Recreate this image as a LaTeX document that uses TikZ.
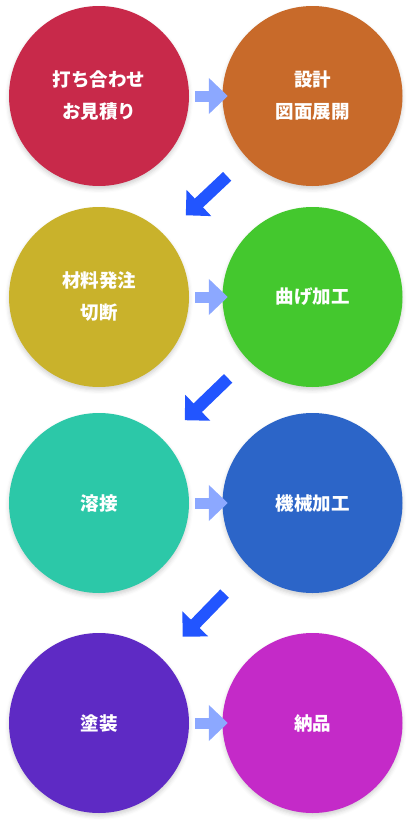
\documentclass[tikz,border=0pt]{standalone}
\usepackage{fontspec}
\newfontfamily\jpfont{Noto Sans CJK JP}
\usepackage{tikz}
\usetikzlibrary{positioning,arrows.meta,shadows.blur}
\definecolor{stepred}{HTML}{C8294A}
\definecolor{steporange}{HTML}{C86A2A}
\definecolor{stepolive}{HTML}{C9B22B}
\definecolor{stepgreen}{HTML}{44C82E}
\definecolor{stepteal}{HTML}{2CC8A8}
\definecolor{stepblue}{HTML}{2C65C8}
\definecolor{steppurple}{HTML}{5E2AC4}
\definecolor{stepmagenta}{HTML}{C42AC8}
\definecolor{flowlight}{HTML}{8CA8FF}
\definecolor{flowdark}{HTML}{2255FF}
\tikzset{
  stepcircle/.style={circle, minimum size=180pt, inner sep=0pt, align=center, text=white,
    font=\jpfont\bfseries\fontsize{18.5}{32}\selectfont,
    blur shadow={shadow xshift=0pt, shadow yshift=-3pt, shadow blur radius=4pt, shadow opacity=18}},
  hflow/.style={-{Triangle[length=19pt, width=35pt]}, line width=11pt, draw=flowlight,
    shorten <=6pt, shorten >=-5.5pt},
  dflow/.style={-{Triangle[length=18pt, width=35pt]}, line width=12pt, draw=flowdark,
    shorten <=27pt, shorten >=29pt}
}
\begin{document}
\begin{tikzpicture}[x=1pt, y=-1pt]
  \useasboundingbox (0,0) rectangle (412,825);
  \node[stepcircle, fill=stepred] (meet) at (99,96) {打ち合わせ\\お見積り};
  \node[stepcircle, fill=steporange] (design) at (312.5,96) {設計\\図面展開};
  \node[stepcircle, fill=stepolive] (order) at (99,297) {材料発注\\切断};
  \node[stepcircle, fill=stepgreen] (bend) at (312.5,297) {曲げ加工};
  \node[stepcircle, fill=stepteal] (weld) at (99,503) {溶接};
  \node[stepcircle, fill=stepblue] (machine) at (312.5,503) {機械加工};
  \node[stepcircle, fill=steppurple] (paint) at (99,723) {塗装};
  \node[stepcircle, fill=stepmagenta] (deliver) at (312.5,723) {納品};
  % arrows
  \draw[hflow] (meet) -- (design);
  \draw[hflow] (order) -- (bend);
  \draw[hflow] (weld) -- (machine);
  \draw[hflow] (paint) -- (deliver);
  \draw[dflow] (design) -- (order);
  \draw[dflow] (bend) -- (weld);
  \draw[dflow, shorten <=36pt, shorten >=30pt] (machine) -- (paint);
\end{tikzpicture}
\end{document}
